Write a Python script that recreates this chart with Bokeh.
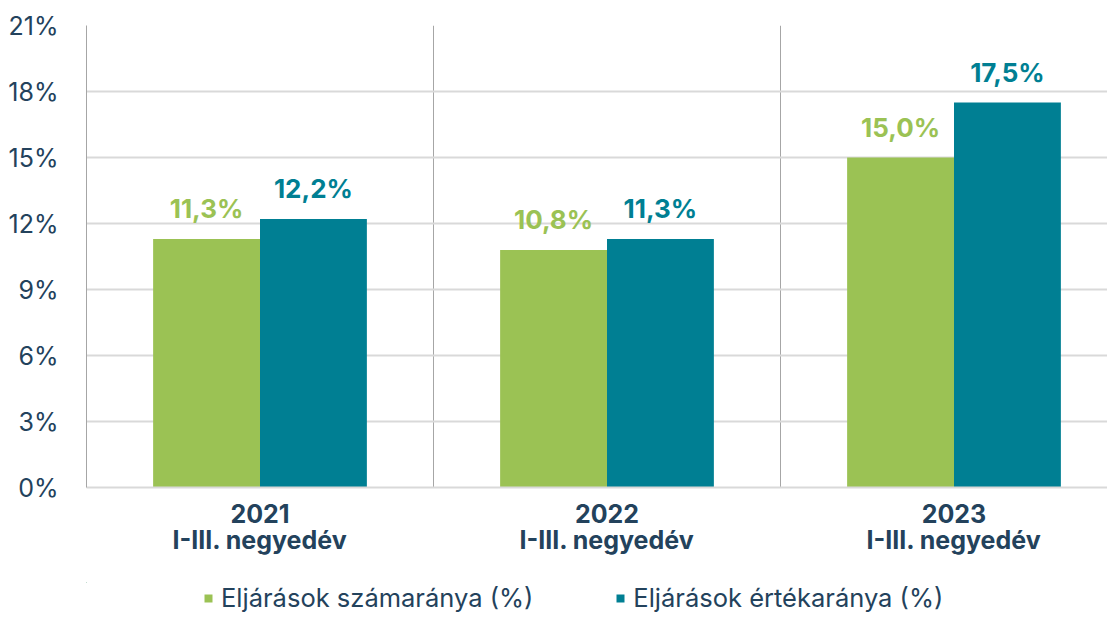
from bokeh.plotting import figure
from bokeh.layouts import column
from bokeh.models import (ColumnDataSource, Range1d, FixedTicker, PrintfTickFormatter,
                          LabelSet, Legend, LegendItem)
from bokeh.core.properties import value
from bokeh.embed import file_html
from bokeh.resources import INLINE

# ---- data ----
years = ["2021", "2022", "2023"]
period = "I-III. negyedév"
szamarany = [11.3, 10.8, 15.0]     # Eljárások számaránya (%)
ertekarany = [12.2, 11.3, 17.5]    # Eljárások értékaránya (%)
series_names = ["Eljárások számaránya (%)", "Eljárások értékaránya (%)"]
y_ticks = [0, 3, 6, 9, 12, 15, 18, 21]

GREEN = "#9BC254"
TEAL = "#007F93"
TEXT = "#23425C"
FONT = "Inter"

idx = list(range(len(years)))
BAR_W = 0.308
x_green = [i + 0.5 - BAR_W / 2 for i in idx]
x_teal = [i + 0.5 + BAR_W / 2 for i in idx]

def fmt(v):
    return f"{v:.1f}".replace(".", ",") + "%"

src_g = ColumnDataSource(dict(x=x_green, top=szamarany, lab=[fmt(v) for v in szamarany]))
src_t = ColumnDataSource(dict(x=x_teal, top=ertekarany, lab=[fmt(v) for v in ertekarany]))

W = 1107
LEG_H = 30
p = figure(width=W, height=612 - LEG_H, output_backend="svg", toolbar_location=None,
           x_range=Range1d(0, (W - 86) / 347), y_range=Range1d(0, 21))
p.min_border_left = 86
p.min_border_right = 0
p.min_border_top = 25
p.min_border_bottom = 612 - LEG_H - 25 - 462
p.outline_line_color = None

p.vbar(x="x", top="top", width=BAR_W, source=src_g, fill_color=GREEN, line_color=None)
p.vbar(x="x", top="top", width=BAR_W, source=src_t, fill_color=TEAL, line_color=None)

# y axis
p.yaxis.ticker = FixedTicker(ticks=y_ticks)
p.yaxis.formatter = PrintfTickFormatter(format="%d%%")
p.yaxis.major_label_text_font = FONT
p.yaxis.major_label_text_font_size = "25px"
p.yaxis.major_label_text_color = TEXT
p.yaxis.major_label_standoff = 22
p.yaxis.major_tick_line_color = None
p.yaxis.minor_tick_line_color = None
p.yaxis.axis_line_color = "#A6A6A6"
p.yaxis.axis_line_width = 1

# x axis
p.xaxis.ticker = FixedTicker(ticks=[i + 0.5 for i in idx])
p.xaxis.major_label_overrides = {i + 0.5: f"{years[i]}\n{period}" for i in idx}
p.xaxis.major_label_text_font = FONT
p.xaxis.major_label_text_font_size = "25px"
p.xaxis.major_label_text_font_style = "bold"
p.xaxis.major_label_text_color = TEXT
p.xaxis.major_label_text_line_height = 0.88
p.xaxis.major_label_standoff = 5
p.xaxis.major_tick_line_color = None
p.xaxis.minor_tick_line_color = None
p.xaxis.axis_line_color = "#D9D9D9"
p.xaxis.axis_line_width = 2

# grids
p.ygrid.ticker = FixedTicker(ticks=y_ticks)
p.ygrid.grid_line_color = "#D9D9D9"
p.ygrid.grid_line_width = 2
p.xgrid.ticker = FixedTicker(ticks=[1, 2, 3])
p.xgrid.grid_line_color = "#A6A6A6"
p.xgrid.grid_line_width = 1

# data labels
for src, col in ((src_g, GREEN), (src_t, TEAL)):
    p.add_layout(LabelSet(x="x", y="top", text="lab", source=src, y_offset=21,
                          text_align="center", text_baseline="alphabetic",
                          text_font=value(FONT), text_font_size="26px",
                          text_font_style="bold", text_color=col))

# legend strip: same series drawn in a small figure whose view shows none of the bars
leg = figure(width=W, height=LEG_H, output_backend="svg", toolbar_location=None,
             x_axis_location=None, y_axis_location=None,
             x_range=Range1d(10, 11), y_range=Range1d(-2, -1))
leg.min_border = 0
leg.outline_line_color = None
leg.xgrid.visible = False
leg.ygrid.visible = False
lg = leg.vbar(x="x", top="top", width=BAR_W, source=src_g, fill_color=GREEN, line_color=None)
lt = leg.vbar(x="x", top="top", width=BAR_W, source=src_t, fill_color=TEAL, line_color=None)

legend = Legend(items=[LegendItem(label=series_names[0], renderers=[lg]),
                       LegendItem(label=series_names[1], renderers=[lt])],
                orientation="horizontal", location=(117, -1))
legend.padding = 0
legend.margin = 0
legend.spacing = 82
legend.border_line_color = None
legend.background_fill_alpha = 0
legend.glyph_width = 10
legend.glyph_height = 10
legend.label_standoff = 8
legend.label_text_font = FONT
legend.label_text_font_size = "25.5px"
legend.label_text_color = TEXT
leg.add_layout(legend)

layout = column(p, leg, spacing=0)
open("out.html", "w").write(file_html(layout, INLINE))
